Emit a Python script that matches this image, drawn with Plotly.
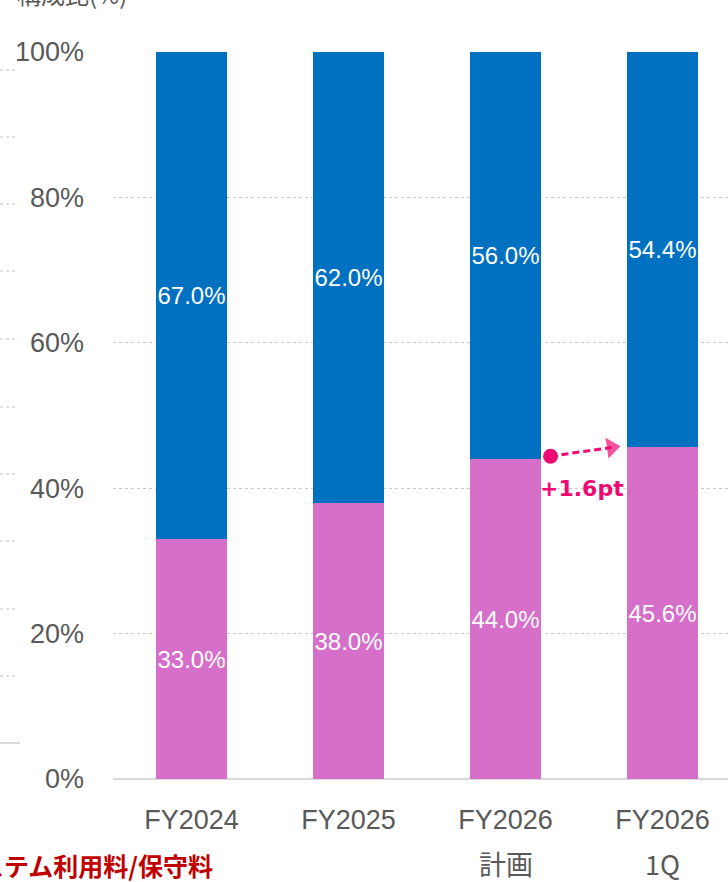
import plotly.graph_objects as go

categories = ["FY2024", "FY2025", "FY2026", "FY2026"]
sublabels = ["", "", "計画", "1Q"]
pink_vals = [33.0, 38.0, 44.0, 45.6]
blue_vals = [67.0, 62.0, 56.0, 54.4]
y_ticks = [0, 20, 40, 60, 80, 100]
y_ticktext = [f"{v}%" for v in y_ticks]

PINK = "#D66FC9"
BLUE = "#0070C0"
ACCENT = "#EE0A72"
GRAY = "#595959"

W, H = 728, 882
L, R, T, B = 113, 0, 52, 103
pw, ph = W - L - R, H - T - B

def px_x(px):
    return (px - L) / pw

def px_y(py):
    return (H - B - py) / ph

xs = list(range(len(categories)))

fig = go.Figure()
for vals, col in [(pink_vals, PINK), (blue_vals, BLUE)]:
    fig.add_trace(go.Bar(
        x=xs, y=vals, marker=dict(color=col, line=dict(width=0)), width=0.45,
        text=[f"{v:.1f}%" for v in vals], textposition="inside", textangle=0,
        insidetextanchor="middle", constraintext="none",
        textfont=dict(color="white", size=24, family="Liberation Sans"),
        hoverinfo="skip", showlegend=False))

# change indicator: dashed arrow + start dot
ax0, ax1 = 2.287, 2.675
ay0, ay1 = pink_vals[2] + 0.4, pink_vals[3]
fig.add_trace(go.Scatter(
    x=[ax0, ax1], y=[ay0, ay1], mode="lines+markers",
    line=dict(color=ACCENT, width=3, dash="7px,4px"),
    marker=dict(symbol="triangle-up", size=[0, 18], color=ACCENT,
                angleref="previous", line=dict(width=0)),
    hoverinfo="skip", showlegend=False, cliponaxis=False))
fig.add_trace(go.Scatter(
    x=[ax0], y=[ay0], mode="markers",
    marker=dict(symbol="circle", size=15, color=ACCENT, line=dict(width=0)),
    hoverinfo="skip", showlegend=False, cliponaxis=False))

annotations = [
    dict(x=2.49, y=40.0, xref="x", yref="y", text="<b>+1.6pt</b>", showarrow=False,
         font=dict(color=ACCENT, size=22, family="DejaVu Sans")),
    dict(x=px_x(72), y=px_y(-6), xref="paper", yref="paper", text="構成比(%)",
         showarrow=False, xanchor="center", yanchor="middle",
         font=dict(color=GRAY, size=24, family="Noto Sans CJK JP")),
    dict(x=px_x(215), y=px_y(865), xref="paper", yref="paper",
         text="<b>システム利用料/保守料</b>", showarrow=False, xanchor="right", yanchor="middle",
         font=dict(color="#C00000", size=25, family="Noto Sans CJK JP")),
]
for i, s in enumerate(sublabels):
    if s:
        annotations.append(dict(x=xs[i], y=px_y(863), xref="x", yref="paper", text=s,
                                showarrow=False, yanchor="middle",
                                font=dict(color=GRAY, size=27, family="Noto Sans CJK JP")))

shapes = []
for py in [70, 137, 204, 271, 339, 407, 474, 541, 609, 676]:
    shapes.append(dict(type="line", xref="paper", yref="paper", x0=px_x(0), x1=px_x(18),
                       y0=px_y(py), y1=px_y(py), line=dict(color="#BFBFBF", width=1, dash="dot")))
shapes.append(dict(type="line", xref="paper", yref="paper", x0=px_x(0), x1=px_x(20),
                   y0=px_y(743), y1=px_y(743), line=dict(color="#D9D9D9", width=2)))

fig.update_layout(
    width=W, height=H, margin=dict(l=L, r=R, t=T, b=B),
    paper_bgcolor="white", plot_bgcolor="white", barmode="stack", bargap=0,
    annotations=annotations, shapes=shapes,
    font=dict(family="Liberation Sans", color=GRAY),
)
fig.update_xaxes(range=[-0.5, (W - L) / 157 - 0.5], tickvals=xs, ticktext=categories,
                 showgrid=False, zeroline=False, showline=False,
                 tickfont=dict(size=27, color=GRAY, family="Liberation Sans"),
                 ticklabelstandoff=22, ticks="")
fig.update_yaxes(range=[0, 100], tickvals=y_ticks, ticktext=y_ticktext,
                 showgrid=True, gridcolor="#C8C8C8", gridwidth=1, griddash="dot",
                 zeroline=True, zerolinecolor="#D9D9D9", zerolinewidth=2,
                 showline=False, ticks="",
                 tickfont=dict(size=27, color=GRAY, family="Liberation Sans"),
                 ticklabelstandoff=28)

fig.write_html("out.html")
